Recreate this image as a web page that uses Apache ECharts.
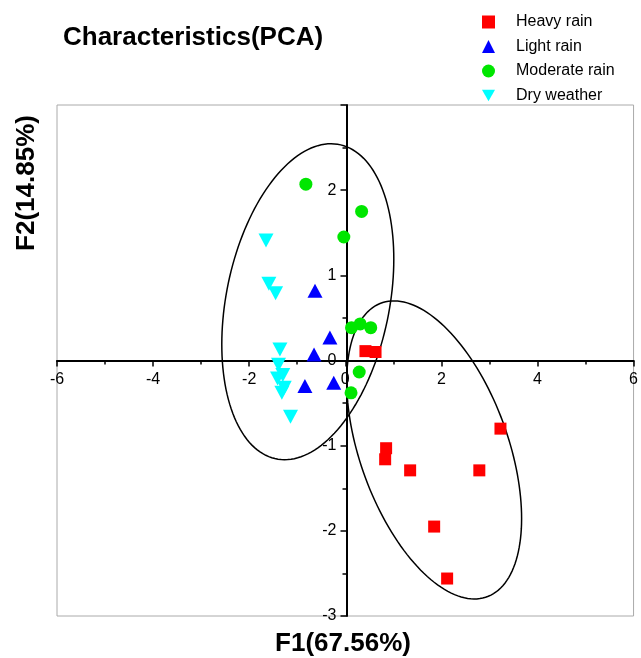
<!DOCTYPE html>
<html>
<head>
<meta charset="utf-8">
<script src="https://cdn.jsdelivr.net/npm/echarts@6/dist/echarts.min.js"></script>
<style>html,body{margin:0;padding:0;background:#fff;}#c{width:641px;height:658px;}</style>
</head>
<body>
<div id="c"></div>
<script>
// ---- data ----
const seriesNames = ['Heavy rain', 'Light rain', 'Moderate rain', 'Dry weather'];
const heavyRain = [[0.42,0.11],[0.63,0.10],[3.23,-0.80],[0.85,-1.03],[0.83,-1.16],[1.35,-1.29],[2.79,-1.29],[1.85,-1.95],[2.12,-2.56]];
const lightRain = [[-0.63,0.82],[-0.32,0.27],[-0.65,0.07],[-0.84,-0.30],[-0.24,-0.26]];
const moderateRain = [[-0.82,2.07],[0.34,1.75],[-0.03,1.45],[0.13,0.385],[0.31,0.43],[0.53,0.385],[0.29,-0.135],[0.12,-0.38]];
const dryWeather = [[-1.65,1.41],[-1.59,0.90],[-1.45,0.79],[-1.36,0.13],[-1.39,-0.05],[-1.30,-0.17],[-1.41,-0.21],[-1.27,-0.32],[-1.32,-0.38],[-1.14,-0.66]];
// confidence ellipses: centre, and [sx, sy, correlation]
const ellipseCenters = [[-0.78,0.69],[1.85,-1.05]];
const ellipseSpreads = [[1.79,1.855,0.27],[1.82,1.75,-0.46]];
const xTicks = [-6,-4,-2,0,2,4,6];
const yTicks = [-3,-2,-1,0,1,2,3];

const FONT = 'Liberation Sans, Arial, sans-serif';
const GRID = {left:57, right:5, top:105, bottom:42};
const W = 641, H = 658;
const chart = echarts.init(document.getElementById('c'), null, {renderer:'canvas'});

// place the axes through the origin (axis lines, ticks and labels)
const gw = W - GRID.left - GRID.right, gh = H - GRID.top - GRID.bottom;
const xMin = xTicks[0], xMax = xTicks[xTicks.length-1];
const yMin = yTicks[0], yMax = yTicks[yTicks.length-1];
const xAxisOffset = -gh * (0 - yMin) / (yMax - yMin);
const yAxisOffset = -gw * (0 - xMin) / (xMax - xMin);

function ellipseItem(params, api){
  const i = params.dataIndex;
  const c = ellipseCenters[i], s = ellipseSpreads[i];
  const pts = [];
  const n = 160;
  for (let k=0;k<=n;k++){
    const t = 2*Math.PI*k/n;
    const x = c[0] + s[0]*Math.cos(t);
    const y = c[1] + s[1]*(s[2]*Math.cos(t) + Math.sqrt(1-s[2]*s[2])*Math.sin(t));
    pts.push(api.coord([x,y]));
  }
  return {type:'polyline', shape:{points:pts}, style:{stroke:'#000', fill:null, lineWidth:1.5}};
}

const axisCommon = {
  type:'value',
  axisLine:{show:true,onZero:false,lineStyle:{color:'#000',width:2}},
  axisTick:{show:true,inside:false,length:6,lineStyle:{color:'#000',width:1.5}},
  minorTick:{show:true,splitNumber:2,length:4,lineStyle:{color:'#000',width:1.5}},
  splitLine:{show:false},
  minorSplitLine:{show:false}
};

chart.setOption({
  animation:false,
  backgroundColor:'#fff',
  grid:Object.assign({show:true,borderColor:'#aaaaaa',borderWidth:1,backgroundColor:'transparent'}, GRID),
  xAxis:Object.assign({}, axisCommon, {
    min:xMin, max:xMax, interval:2, offset:xAxisOffset,
    axisLabel:{color:'#000',fontSize:16,fontFamily:FONT,margin:11,showMinLabel:true,showMaxLabel:true}
  }),
  yAxis:Object.assign({}, axisCommon, {
    min:yMin, max:yMax, interval:1, offset:yAxisOffset,
    axisLabel:{color:'#000',fontSize:16,fontFamily:FONT,margin:10,
      formatter:function(v){return v===yMax?'':String(v);}}
  }),
  legend:{
    orient:'vertical', left:477, top:9, itemWidth:13, itemHeight:13, itemGap:8.5,
    data:[
      {name:seriesNames[0], icon:'rect'},
      {name:seriesNames[1], icon:'triangle'},
      {name:seriesNames[2], icon:'circle'},
      {name:seriesNames[3], icon:'path://M0,0 L2,0 L1,1.8 Z'}
    ],
    textStyle:{color:'#000',fontSize:16,fontFamily:FONT,padding:[0,0,0,16]},
    selectedMode:false
  },
  graphic:[
    {type:'text', left:63, top:25, style:{text:'Characteristics(PCA)', font:'bold 26px '+FONT, fill:'#000'}},
    {type:'text', x:343, y:644, style:{text:'F1(67.56%)', font:'bold 26px '+FONT, fill:'#000', align:'center', verticalAlign:'middle'}},
    {type:'text', x:27, y:183, rotation:Math.PI/2, style:{text:'F2(14.85%)', font:'bold 26px '+FONT, fill:'#000', align:'center', verticalAlign:'middle'}}
  ],
  series:[
    {type:'custom', name:'ellipses', coordinateSystem:'cartesian2d', renderItem:ellipseItem, data:ellipseCenters, silent:true, z:1},
    {type:'scatter', name:seriesNames[0], data:heavyRain, symbol:'rect', symbolSize:12, itemStyle:{color:'#ff0000',opacity:1}, z:3},
    {type:'scatter', name:seriesNames[1], data:lightRain, symbol:'triangle', symbolSize:[15,14], itemStyle:{color:'#0000ff',opacity:1}, z:3},
    {type:'scatter', name:seriesNames[2], data:moderateRain, symbol:'circle', symbolSize:13, itemStyle:{color:'#00e600',opacity:1}, z:3},
    {type:'scatter', name:seriesNames[3], data:dryWeather, symbol:'triangle', symbolRotate:180, symbolSize:[15,14], itemStyle:{color:'#00ffff',opacity:1}, z:3}
  ]
});
</script>
</body>
</html>
